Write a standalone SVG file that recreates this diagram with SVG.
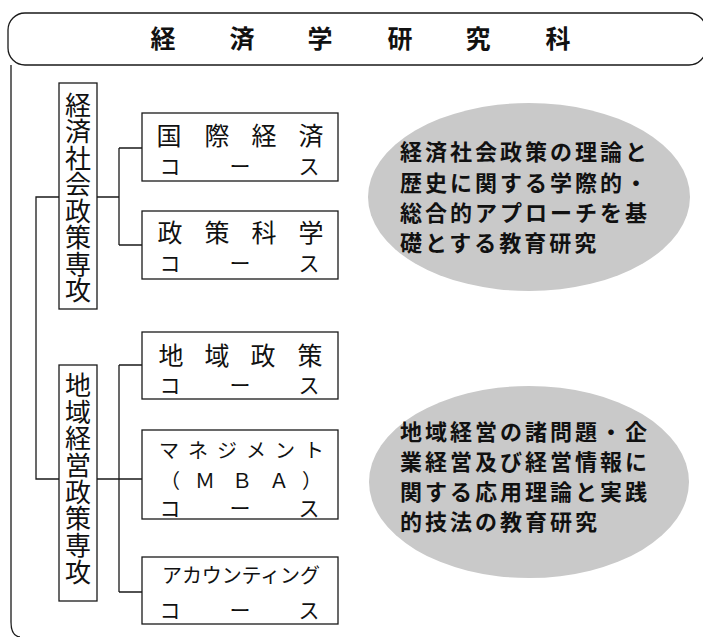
<svg xmlns="http://www.w3.org/2000/svg" width="703" height="637" viewBox="0 0 703 637">
<style>
.ln{fill:none;stroke:#1a1a1a;stroke-width:1.3}
.bx{fill:#fff;stroke:#1a1a1a;stroke-width:1.3}
.t{font-family:"Noto Sans CJK JP","Noto Sans CJK SC",sans-serif;fill:#111}
.m{font-size:25px;text-anchor:middle}
.s{font-size:21px;text-anchor:middle}
.k{font-size:20px;text-anchor:middle}
.v{font-size:26px;letter-spacing:0.5px}
.e{font-size:22px;font-weight:bold;letter-spacing:3px}
.ell{fill:#c9c9c9}
</style>
<g id="frame">
<rect class="ln" x="8" y="13" width="698" height="52" rx="17"/>
<path class="ln" d="M11 65 V622 Q11 636 20 637"/>
<text class="t" font-size="25" font-weight="bold" text-anchor="middle" x="163 242 320 400 478 558" y="47.5">経済学研究科</text>
</g>
<g id="connectors">
<path class="ln" d="M59 197 H36 V479 H59"/>
<path class="ln" d="M97 197 H119 M119 148 V245 M119 148 H142 M119 245 H142"/>
<path class="ln" d="M97 479 H142 M119 365 V592 M119 365 H142 M119 592 H142"/>
</g>
<g id="major1">
<rect class="bx" x="59" y="83" width="38" height="226"/>
<text class="t v" writing-mode="vertical-rl" x="78" y="92">経済社会政策専攻</text>
</g>
<g id="major2">
<rect class="bx" x="59" y="365" width="38" height="236"/>
<text class="t v" writing-mode="vertical-rl" x="78" y="372" style="letter-spacing:0.7px">地域経営政策専攻</text>
</g>
<g id="course1">
<rect class="bx" x="142" y="113" width="196" height="68"/>
<text class="t m" x="169 217 264 311" y="144.5">国際経済</text>
<text class="t s" x="170 240 309" y="174">コース</text>
</g>
<g id="course2">
<rect class="bx" x="142" y="211" width="196" height="68"/>
<text class="t m" x="170 217 264 311" y="241.5">政策科学</text>
<text class="t s" x="170 240 309" y="271">コース</text>
</g>
<g id="course3">
<rect class="bx" x="142" y="332" width="196" height="67"/>
<text class="t m" x="171 217 263 310" y="364.5">地域政策</text>
<text class="t s" x="170 240 309" y="393">コース</text>
</g>
<g id="course4">
<rect class="bx" x="142" y="430" width="196" height="89"/>
<text class="t k" x="169 198 227 256 285 314" y="458">マネジメント</text>
<text class="t" font-size="20" text-anchor="middle" x="170 205 242 279 312" y="488">（ＭＢＡ）</text>
<text class="t s" x="170 240 309" y="516">コース</text>
</g>
<g id="course5">
<rect class="bx" x="142" y="557" width="196" height="67"/>
<text class="t" font-size="20" x="162" y="583" textLength="158" lengthAdjust="spacing">アカウンティング</text>
<text class="t s" x="170 240 309" y="618">コース</text>
</g>
<g id="note1">
<ellipse class="ell" cx="529" cy="197" rx="161" ry="94"/>
<text class="t e" x="400" y="160">経済社会政策の理論と</text>
<text class="t e" x="400" y="190.5">歴史に関する学際的・</text>
<text class="t e" x="400" y="220.5">総合的アプローチを基</text>
<text class="t e" x="400" y="250.5">礎とする教育研究</text>
</g>
<g id="note2">
<ellipse class="ell" cx="529" cy="482" rx="160" ry="96"/>
<text class="t e" x="400" y="439.5">地域経営の諸問題・企</text>
<text class="t e" x="400" y="469.5">業経営及び経営情報に</text>
<text class="t e" x="400" y="499.5">関する応用理論と実践</text>
<text class="t e" x="400" y="529.5">的技法の教育研究</text>
</g>
</svg>
